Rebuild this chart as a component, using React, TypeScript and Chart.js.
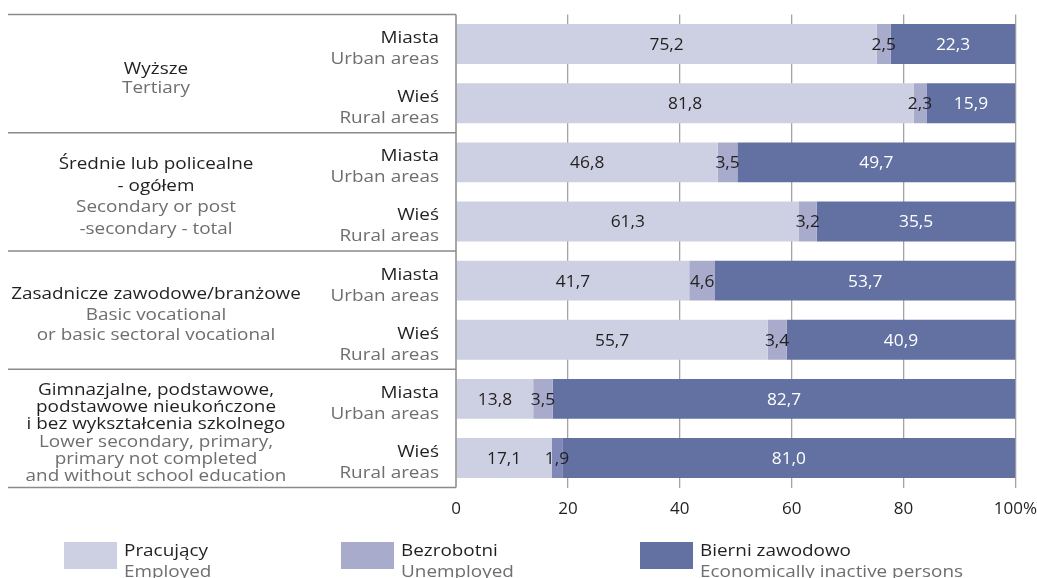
import React, { useEffect, useRef } from "react";
import { Chart, registerables } from "chart.js";

Chart.register(...registerables);

// ---------- data ----------
const rowLabelsPl = ["Miasta", "Wieś", "Miasta", "Wieś", "Miasta", "Wieś", "Miasta", "Wieś"];
const rowLabelsEn = ["Urban areas", "Rural areas", "Urban areas", "Rural areas", "Urban areas", "Rural areas", "Urban areas", "Rural areas"];
const groupLabelsPl = [
  ["Wyższe"],
  ["Średnie lub policealne", "- ogółem"],
  ["Zasadnicze zawodowe/branżowe"],
  ["Gimnazjalne, podstawowe,", "podstawowe nieukończone", "i bez wykształcenia szkolnego"],
];
const groupLabelsEn = [
  ["Tertiary"],
  ["Secondary or post", "-secondary - total"],
  ["Basic vocational", "or basic sectoral vocational"],
  ["Lower secondary, primary,", "primary not completed", "and without school education"],
];
const employed = [75.2, 81.8, 46.8, 61.3, 41.7, 55.7, 13.8, 17.1];
const unemployed = [2.5, 2.3, 3.5, 3.2, 4.6, 3.4, 3.5, 1.9];
const inactive = [22.3, 15.9, 49.7, 35.5, 53.7, 40.9, 82.7, 81.0];
const xTickValues = [0, 20, 40, 60, 80, 100];
const seriesPl = ["Pracujący", "Bezrobotni", "Bierni zawodowo"];
const seriesEn = ["Employed", "Unemployed", "Economically inactive persons"];

// ---------- styles ----------
const BLACK = "#231f20";
const GRAY = "#6d6e71";
const C_EMP = "#cdcfe2";
const C_UNE = "#a8abcb";
const C_UNE_ALT = "#7f88b7";
const C_INA = "#6271a2";
const FONT_FAMILY = "'Open Sans', 'Noto Sans', sans-serif";
const TEXT_FONT = `15.5px ${FONT_FAMILY}`;
const STRETCH = 1.22;
const groupLineSpacing = [19, 21.7, 20.5, 17.1];
const legendX = [64, 341, 640];

const fmt = (v: number) => v.toFixed(1).replace(".", ",");

function drawText(
  ctx: CanvasRenderingContext2D,
  text: string,
  x: number,
  y: number,
  align: CanvasTextAlign,
  color: string,
  font: string,
  sx: number
) {
  ctx.save();
  ctx.translate(x, y);
  ctx.scale(sx, 1);
  ctx.font = font;
  ctx.fillStyle = color;
  ctx.textAlign = align;
  ctx.textBaseline = "alphabetic";
  ctx.fillText(text, 0, 0);
  ctx.restore();
}

const overlayPlugin = {
  id: "overlay",
  afterDatasetsDraw(chart: any) {
    const ctx: CanvasRenderingContext2D = chart.ctx;
    chart.data.datasets.forEach((ds: any, di: number) => {
      const meta = chart.getDatasetMeta(di);
      meta.data.forEach((el: any, i: number) => {
        const p = el.getProps(["x", "base", "y"], true);
        const v = ds.data[i] as number;
        drawText(
          ctx,
          fmt(v),
          (p.x + p.base) / 2,
          p.y + 6,
          "center",
          di === 2 ? "#ffffff" : BLACK,
          `15.5px ${FONT_FAMILY}`,
          1.12
        );
      });
    });
  },
  afterDraw(chart: any) {
    const ctx: CanvasRenderingContext2D = chart.ctx;
    const ca = chart.chartArea;
    const y = chart.scales.y;
    const n = chart.data.labels.length;
    const rowPx = (i: number) => y.getPixelForValue(i);

    // table lines
    ctx.save();
    ctx.strokeStyle = "#8a8a8a";
    ctx.lineWidth = 1.5;
    const bounds: number[] = [ca.top];
    for (let g = 1; g < n / 2; g++) bounds.push((rowPx(2 * g - 1) + rowPx(2 * g)) / 2);
    bounds.push(ca.bottom);
    ctx.beginPath();
    bounds.forEach((b) => {
      ctx.moveTo(8, b);
      ctx.lineTo(ca.left, b);
    });
    ctx.moveTo(ca.left, ca.top);
    ctx.lineTo(ca.left, ca.bottom);
    ctx.stroke();
    ctx.restore();

    // row sub-labels
    for (let i = 0; i < n; i++) {
      const c = rowPx(i);
      const rx = ca.left - 17;
      drawText(ctx, rowLabelsPl[i], rx, c - 1, "right", BLACK, TEXT_FONT, STRETCH);
      drawText(ctx, rowLabelsEn[i], rx, c + 20, "right", GRAY, TEXT_FONT, STRETCH);
    }

    // group labels
    groupLabelsPl.forEach((pl, g) => {
      const center = (rowPx(2 * g) + rowPx(2 * g + 1)) / 2;
      const lines = [...pl.map((t) => ({ t, c: BLACK })), ...groupLabelsEn[g].map((t) => ({ t, c: GRAY }))];
      const s = groupLineSpacing[g];
      const m = (lines.length - 1) / 2;
      lines.forEach((ln, k) => {
        drawText(ctx, ln.t, 156, center + 9.5 + (k - m) * s, "center", ln.c, TEXT_FONT, STRETCH);
      });
    });

    // legend
    chart.data.datasets.forEach((ds: any, di: number) => {
      const lx = legendX[di];
      ctx.save();
      ctx.fillStyle = ds.legendColor;
      ctx.fillRect(lx, 542, 53, 27);
      ctx.restore();
      drawText(ctx, seriesPl[di], lx + 60, 556, "left", BLACK, TEXT_FONT, STRETCH);
      drawText(ctx, seriesEn[di], lx + 60, 577, "left", GRAY, TEXT_FONT, STRETCH);
    });
  },
};

export default function App() {
  const canvasRef = useRef<HTMLCanvasElement | null>(null);

  useEffect(() => {
    if (!canvasRef.current) return;
    const labels = rowLabelsPl.map((l, i) => `${groupLabelsPl[Math.floor(i / 2)][0]} – ${l}`);
    const chart = new Chart(canvasRef.current, {
      type: "bar",
      data: {
        labels,
        datasets: [
          { label: seriesPl[0], data: employed, backgroundColor: C_EMP, legendColor: C_EMP } as any,
          {
            label: seriesPl[1],
            data: unemployed,
            backgroundColor: unemployed.map((_, i) => (i === unemployed.length - 1 ? C_UNE_ALT : C_UNE)),
            legendColor: C_UNE,
          } as any,
          { label: seriesPl[2], data: inactive, backgroundColor: C_INA, legendColor: C_INA } as any,
        ],
      },
      options: {
        indexAxis: "y",
        animation: false,
        responsive: true,
        maintainAspectRatio: false,
        layout: { padding: { left: 456, right: 0, top: 14.5, bottom: 59 } },
        datasets: { bar: { categoryPercentage: 1, barPercentage: 0.675, borderWidth: 0 } },
        plugins: { legend: { display: false }, tooltip: { enabled: false } },
        scales: {
          y: { type: "category", stacked: true, display: false },
          x: {
            type: "linear",
            stacked: true,
            min: 0,
            max: 100,
            afterBuildTicks: (scale: any) => {
              scale.ticks = xTickValues.map((v) => ({ value: v }));
            },
            ticks: {
              padding: 0,
              color: BLACK,
              font: { family: FONT_FAMILY, size: 17 },
              maxRotation: 0,
              callback: (v: any) => (Number(v) === 100 ? "100%" : String(v)),
            },
            grid: {
              drawTicks: true,
              tickLength: 11,
              tickColor: "rgba(0,0,0,0)",
              lineWidth: 1.3,
              color: (c: any) => (c.tick && c.tick.value === 0 ? "rgba(0,0,0,0)" : "#a3a3a3"),
            },
            border: { display: false },
          },
        },
      },
      plugins: [overlayPlugin],
    });
    return () => chart.destroy();
  }, []);

  return (
    <div style={{ position: "absolute", left: 0, top: 0, width: 1037, height: 578, background: "#ffffff" }}>
      <canvas ref={canvasRef} />
    </div>
  );
}
